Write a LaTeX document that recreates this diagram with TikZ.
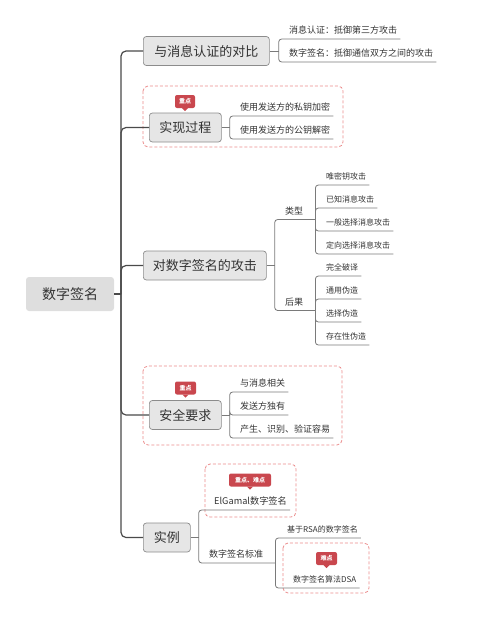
\documentclass[tikz,border=0pt]{standalone}
\usepackage{fontspec}
\setmainfont{Noto Sans CJK SC}
\usetikzlibrary{positioning}
\definecolor{trunkgray}{HTML}{4A4A4A}
\definecolor{twiggray}{HTML}{7A7A7A}
\definecolor{boxfill}{HTML}{E6E6E6}
\definecolor{rootfill}{HTML}{DEDEDE}
\definecolor{boxline}{HTML}{8C8C8C}
\definecolor{tagred}{HTML}{C9474E}
\definecolor{framered}{HTML}{EB8C8C}
\definecolor{txt}{HTML}{333333}
\tikzset{
  rootbox/.style={fill=rootfill, rounded corners=3pt, text=txt, font=\fontsize{14}{14}\selectfont,
    minimum width=88pt, minimum height=34pt},
  topic/.style={draw=boxline, fill=boxfill, rounded corners=3pt, text=txt,
    font=\fontsize{13}{13}\selectfont, minimum height=29pt, line width=0.7pt},
  leaf/.style={anchor=south west, text=txt, font=\fontsize{9}{9}\selectfont,
    inner xsep=3pt, inner ysep=4.5pt},
  small/.style={leaf, font=\fontsize{8}{8}\selectfont},
  trunk/.style={draw=trunkgray, line width=1.2pt, rounded corners=5pt},
  twig/.style={draw=twiggray, line width=0.8pt, rounded corners=3pt},
  frame/.style={draw=framered, dash pattern=on 3pt off 2pt, line width=0.8pt, rounded corners=5pt},
  tag/.style={fill=tagred, text=white, rounded corners=2pt, inner sep=0pt,
    font=\fontsize{6}{6}\selectfont\bfseries, minimum height=13pt}
}
\begin{document}
\begin{tikzpicture}[x=1pt,y=-1pt]
  \useasboundingbox (0,0) rectangle (500,619);

  % frames
  \draw[frame] (143,86) rectangle (343,147);
  \draw[frame] (143,366) rectangle (342,445);
  \draw[frame] (205,464) rectangle (296,517);
  \draw[frame] (283,543) rectangle (369,593);

  % root and main topics
  \node[rootbox] (root) at (70,294) {数字签名};
  \coordinate (tk) at (121,294);

  \node[topic, anchor=west, minimum width=126pt] (cmp) at (143,51) {与消息认证的对比};
  \node[topic, anchor=west, minimum width=72pt] (proc) at (149,127.5) {实现过程};
  \node[topic, anchor=west, minimum width=123pt] (atk) at (143,265.5) {对数字签名的攻击};
  \node[topic, anchor=west, minimum width=72pt] (req) at (149,415) {安全要求};
  \node[topic, anchor=west, minimum width=47pt] (ex) at (143,537.5) {实例};

  \draw[trunk] (root.east) -- (tk);
  \foreach \t in {cmp,proc,atk,req,ex}
    \draw[trunk] (tk) |- (\t.west);

  % comparison
  \coordinate (kc) at ([xshift=9pt]cmp.east);
  \draw[twig] (cmp.east) -- (kc);
  \node[leaf] (cmp1) at (286,39) {消息认证：抵御第三方攻击};
  \node[leaf] (cmp2) at (286,62) {数字签名：抵御通信双方之间的攻击};
  \foreach \l in {cmp1,cmp2}
    \draw[twig] (kc) |- (\l.south east);

  % process
  \coordinate (kp) at ([xshift=8pt]proc.east);
  \draw[twig] (proc.east) -- (kp);
  \node[leaf] (proc1) at (237,116) {使用发送方的私钥加密};
  \node[leaf] (proc2) at (237,139) {使用发送方的公钥解密};
  \foreach \l in {proc1,proc2}
    \draw[twig] (kp) |- (\l.south east);

  % attacks
  \coordinate (ka) at ([xshift=8pt]atk.east);
  \draw[twig] (atk.east) -- (ka);
  \node[leaf] (kind) at (282,219.5) {类型};
  \node[leaf] (res) at (282,310.5) {后果};
  \coordinate (kk) at ([xshift=9pt]kind.south east);
  \coordinate (kr) at ([xshift=9pt]res.south east);
  \draw[twig] (ka) |- (kk);
  \draw[twig] (ka) |- (kr);

  \node[small] (kind1) at (323,185) {唯密钥攻击};
  \node[small] (kind2) at (323,208) {已知消息攻击};
  \node[small] (kind3) at (323,231) {一般选择消息攻击};
  \node[small] (kind4) at (323,254) {定向选择消息攻击};
  \foreach \l in {kind1,kind2,kind3,kind4}
    \draw[twig] (kk) |- (\l.south east);

  \node[small] (res1) at (323,276) {完全破译};
  \node[small] (res2) at (323,299) {通用伪造};
  \node[small] (res3) at (323,322) {选择伪造};
  \node[small] (res4) at (323,345) {存在性伪造};
  \foreach \l in {res1,res2,res3,res4}
    \draw[twig] (kr) |- (\l.south east);

  % requirements
  \coordinate (kq) at ([xshift=8pt]req.east);
  \draw[twig] (req.east) -- (kq);
  \node[leaf] (req1) at (237,392) {与消息相关};
  \node[leaf] (req2) at (237,415) {发送方独有};
  \node[leaf] (req3) at (237,438) {产生、识别、验证容易};
  \foreach \l in {req1,req2,req3}
    \draw[twig] (kq) |- (\l.south east);

  % examples
  \coordinate (ke) at ([xshift=8pt]ex.east);
  \draw[twig] (ex.east) -- (ke);
  \node[leaf, font=\fontsize{9.2}{9.2}\selectfont] (elg) at (211,510) {ElGamal数字签名};
  \node[leaf] (dss) at (206,563) {数字签名标准};
  \coordinate (ks) at ([xshift=9pt]dss.south east);
  \draw[twig] (ke) |- (elg.south east);
  \draw[twig] (ke) |- (ks);
  \node[small] (rsa) at (284,538) {基于RSA的数字签名};
  \node[small] (dsa) at (290,588) {数字签名算法DSA};
  \foreach \l in {rsa,dsa}
    \draw[twig] (ks) |- (\l.south east);

  % tags
  \node[tag, minimum width=20pt] (t1) at (185,101.5) {重点};
  \node[tag, minimum width=21pt] (t2) at (185.5,388) {重点};
  \node[tag, minimum width=42pt] (t3) at (250,480) {重点、难点};
  \node[tag, minimum width=21pt] (t4) at (326.5,558.5) {难点};
  \foreach \t in {t1,t2,t3,t4}
    \fill[tagred] ([xshift=-3pt]\t.south) -- ++(3,3) -- ++(3,-3) -- cycle;
\end{tikzpicture}
\end{document}
